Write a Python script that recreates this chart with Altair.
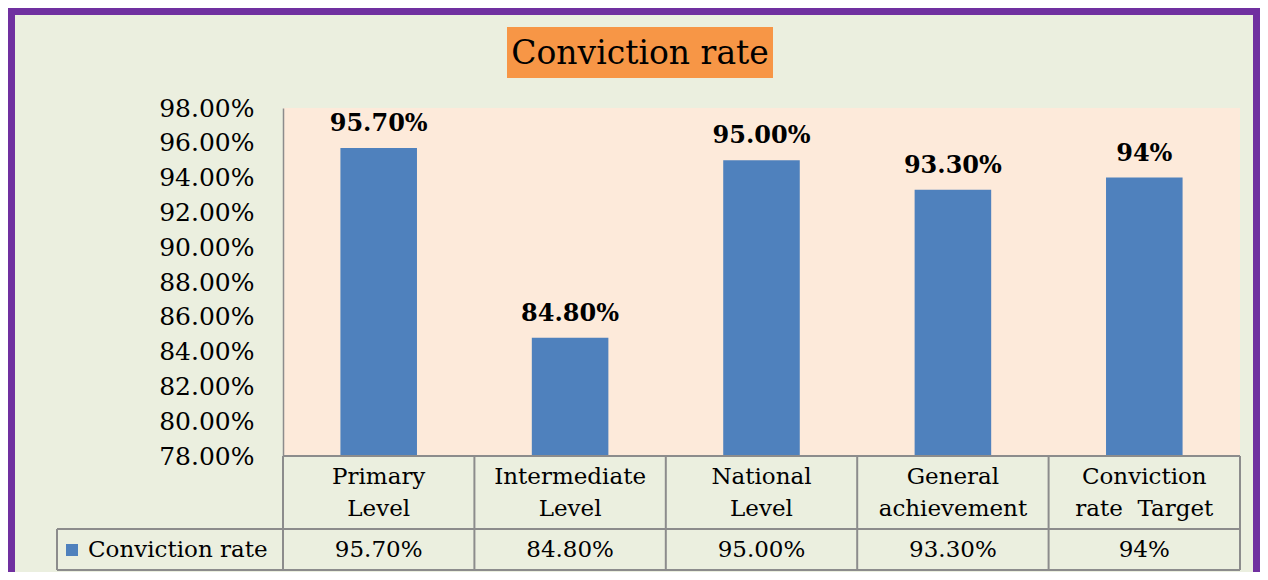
import altair as alt
import pandas as pd

# ---- data ----
categories = ["Primary\nLevel", "Intermediate\nLevel", "National\nLevel",
              "General\nachievement", "Conviction\nrate\u00a0 Target"]
values = [0.957, 0.848, 0.950, 0.933, 0.94]
labels = ["95.70%", "84.80%", "95.00%", "93.30%", "94%"]
y_ticks = [0.78, 0.80, 0.82, 0.84, 0.86, 0.88, 0.90, 0.92, 0.94, 0.96, 0.98]
y_min, y_max = 0.78, 0.98
series_name = "Conviction rate"
title_text = "Conviction rate"

df = pd.DataFrame({"cat": categories, "value": values, "label": labels})
one = pd.DataFrame({"a": [0]})

FONT = "DejaVu Serif"
BLUE = "#4F81BD"
GRID = "#8C8C8C"
W, H = 957, 348

xenc = alt.X("cat:N", sort=categories, axis=None,
             scale=alt.Scale(paddingInner=0, paddingOuter=0))
yenc = alt.Y("value:Q", scale=alt.Scale(domain=[y_min, y_max], zero=False, nice=False),
             axis=alt.Axis(values=y_ticks, format=".2%", title=None, grid=False,
                           ticks=False, tickSize=0, labelPadding=29, labelOverlap=False,
                           labelFontSize=25, labelFont=FONT, labelColor="black",
                           domainColor=GRID, domainWidth=1.5))

bars = alt.Chart(df).mark_bar(width=alt.RelativeBandSize(0.4), color=BLUE).encode(
    x=xenc, y=yenc, y2=alt.datum(y_min),
)

bar_labels = alt.Chart(df).mark_text(
    baseline="bottom", dy=-12, fontSize=24, fontWeight="bold", font=FONT, color="black"
).encode(x=xenc, y=yenc, text="label:N")

cat_text = alt.Chart(df).mark_text(
    lineBreak="\n", lineHeight=32, fontSize=23, font=FONT, color="black", baseline="middle"
).encode(x=xenc, y=alt.value(369), text="cat:N")

val_text = alt.Chart(df).mark_text(
    fontSize=23, font=FONT, color="black", baseline="middle"
).encode(x=xenc, y=alt.value(441.5), text="label:N")

vlines = alt.Chart(df).mark_rule(color=GRID, strokeWidth=2).encode(
    x=alt.X("cat:N", sort=categories, axis=None, bandPosition=0,
            scale=alt.Scale(paddingInner=0, paddingOuter=0)),
    y=alt.value(348), y2=alt.value(462))

deco = [
    # right edge of table
    alt.Chart(one).mark_rule(color=GRID, strokeWidth=2).encode(
        x=alt.value(W), y=alt.value(348), y2=alt.value(462)),
    # legend cell left edge
    alt.Chart(one).mark_rule(color=GRID, strokeWidth=2).encode(
        x=alt.value(-226), y=alt.value(421), y2=alt.value(462)),
    # horizontal lines
    alt.Chart(one).mark_rule(color=GRID, strokeWidth=2).encode(
        x=alt.value(0), x2=alt.value(W), y=alt.value(348)),
    alt.Chart(one).mark_rule(color=GRID, strokeWidth=2).encode(
        x=alt.value(-226), x2=alt.value(W), y=alt.value(421)),
    alt.Chart(one).mark_rule(color=GRID, strokeWidth=2).encode(
        x=alt.value(-226), x2=alt.value(W), y=alt.value(462)),
    # legend swatch + text
    alt.Chart(one).mark_rect(color=BLUE).encode(
        x=alt.value(-217), x2=alt.value(-205), y=alt.value(436), y2=alt.value(448)),
    alt.Chart(one).mark_text(align="left", baseline="middle", fontSize=23, font=FONT,
                             color="black").encode(
        x=alt.value(-195), y=alt.value(441.5), text=alt.value(series_name)),
    # title box + text
    alt.Chart(one).mark_rect(color="#F79646").encode(
        x=alt.value(224), x2=alt.value(490), y=alt.value(-81), y2=alt.value(-30)),
    alt.Chart(one).mark_text(align="center", baseline="middle", fontSize=33, font=FONT,
                             color="black").encode(
        x=alt.value(357), y=alt.value(-54), text=alt.value(title_text)),
    # purple frame
    alt.Chart(one).mark_rect(color="#7030A0").encode(
        x=alt.value(-275), x2=alt.value(977), y=alt.value(-100), y2=alt.value(-93)),
    alt.Chart(one).mark_rect(color="#7030A0").encode(
        x=alt.value(-275), x2=alt.value(-268), y=alt.value(-100), y2=alt.value(464)),
    alt.Chart(one).mark_rect(color="#7030A0").encode(
        x=alt.value(970), x2=alt.value(977), y=alt.value(-100), y2=alt.value(464)),
]

chart = alt.layer(bars, bar_labels, cat_text, val_text, vlines, *deco).properties(
    width=W, height=H,
    autosize=alt.AutoSizeParams(type="none"),
    padding={"left": 275, "top": 100, "right": 20, "bottom": 116},
    background="#EBEFDF",
).configure(font=FONT).configure_view(strokeWidth=0, fill="#FDEADA").configure_axis(
    labelOverlap=False)

chart.save("out.html", embed_options={"renderer": "svg", "actions": False})
